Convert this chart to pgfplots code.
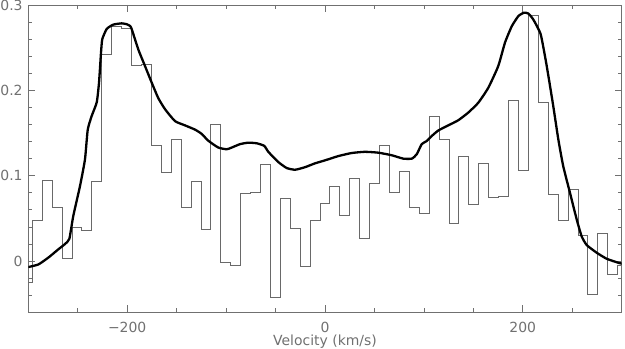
\documentclass[border=0pt]{standalone}
\usepackage{fontspec}
\setmainfont{DejaVu Sans}
\usepackage{pgfplots}
\pgfplotsset{compat=1.18}
\definecolor{axgray}{RGB}{112,112,112}
\definecolor{histgray}{RGB}{105,105,105}

\begin{document}
\begin{tikzpicture}
\begin{axis}[
    scale only axis,
    width=593.4bp, height=307.3bp,
    xmin=-300, xmax=300,
    ymin=-0.06, ymax=0.3,
    axis line style={axgray, line width=0.8bp},
    tick align=inside,
    tick style={axgray, line width=0.8bp},
    major tick length=7bp,
    minor tick length=4bp,
    xtick={-200,0,200},
    xticklabels={−200,0,200},
    minor xtick={-250,-150,-100,-50,50,100,150,250},
    ytick={0,0.1,0.2,0.3},
    yticklabels={0,0.1,0.2,0.3},
    minor ytick={-0.04,-0.02,0.02,0.04,0.06,0.08,0.12,0.14,0.16,0.18,0.22,0.24,0.26,0.28},
    tick label style={font=\fontsize{14}{14}\selectfont, text=axgray, inner sep=0pt},
    xticklabel style={anchor=center, yshift=-15bp},
    yticklabel style={anchor=east, xshift=-5.5bp},
    xlabel={Velocity (km/s)},
    xlabel style={font=\fontsize{14}{14}\selectfont, text=axgray, inner sep=0pt,
        at={(axis description cs:0.5,0)}, anchor=center, yshift=-29.5bp},
]
% spectrum (histogram)
\addplot[const plot, histgray, line width=0.75bp] coordinates {
(-300,-0.025) (-296.0,0.048) (-286.0,0.095) (-275.9,0.0625) (-265.9,0.003)
(-255.9,0.040) (-245.9,0.036) (-235.8,0.093) (-225.8,0.242) (-215.8,0.275)
(-205.7,0.273) (-195.7,0.229) (-185.7,0.231) (-175.6,0.136) (-165.6,0.1035)
(-155.6,0.143) (-145.6,0.0625) (-135.5,0.093) (-125.5,0.0367) (-115.5,0.160)
(-105.4,-0.002) (-95.4,-0.005) (-85.4,0.079) (-75.3,0.081) (-65.3,0.113)
(-55.3,-0.042) (-45.3,0.073) (-35.2,0.038) (-25.2,-0.0066) (-15.2,0.048)
(-5.1,0.068) (4.9,0.087) (14.9,0.0535) (25.0,0.097) (35.0,0.027)
(45.0,0.091) (55.1,0.135) (65.1,0.080) (75.1,0.105) (85.1,0.063)
(95.2,0.056) (105.2,0.169) (115.2,0.142) (125.3,0.044) (135.3,0.123)
(145.3,0.067) (155.4,0.115) (165.4,0.0746) (175.4,0.076) (185.4,0.188)
(195.5,0.106) (205.5,0.288) (215.5,0.1855) (225.6,0.0777) (235.6,0.0477)
(245.6,0.0836) (255.7,0.030) (265.7,-0.0395) (275.7,0.032) (285.7,-0.016)
(295.8,-0.005) (300,-0.005)
};
% model profile
\addplot[black, line width=2.3bp, line join=round, smooth, tension=0.3] coordinates {
(-300,-0.007) (-289.9,-0.004) (-279.8,0.004) (-269.7,0.0137) (-262.9,0.020)
(-258.5,0.026) (-254.5,0.053) (-247.7,0.088) (-242.7,0.119) (-239.9,0.154)
(-235.9,0.170) (-230.8,0.186) (-228.5,0.209) (-226.5,0.244) (-225.2,0.260)
(-220.7,0.272) (-214.1,0.277) (-205.6,0.2785) (-200.5,0.2775) (-197.2,0.2755)
(-195.5,0.272) (-188.8,0.248) (-182.0,0.2285) (-175.2,0.209) (-168.6,0.191)
(-161.8,0.178) (-151.7,0.164) (-141.6,0.159) (-131.4,0.154) (-124.7,0.149)
(-118.0,0.141) (-107.9,0.133) (-99.4,0.131) (-94.3,0.133) (-85.9,0.137)
(-77.6,0.1387) (-69.1,0.138) (-61.4,0.135) (-57.3,0.128) (-47.2,0.116)
(-38.7,0.109) (-30.3,0.107) (-20.2,0.110) (-10.1,0.1145) (0,0.118)
(13.4,0.123) (27.0,0.1266) (40.4,0.128) (53.9,0.127) (67.4,0.124)
(79.2,0.120) (87.7,0.120) (92.7,0.125) (97.8,0.137) (102.8,0.1406)
(107.9,0.1465) (114.6,0.153) (124.7,0.159) (134.8,0.165) (144.9,0.174)
(155.0,0.1855) (165.1,0.203) (175.2,0.2285) (182.0,0.256) (188.8,0.275)
(195.5,0.287) (201.2,0.291) (205.6,0.290) (210.6,0.283) (218.1,0.2656)
(224.2,0.2285) (230.8,0.1816) (235.9,0.1426) (240.9,0.111) (247.7,0.080)
(254.5,0.0488) (259.5,0.029) (264.6,0.0188) (274.7,0.0098) (284.8,0.0027)
(296.6,-0.002) (300,-0.003)
};
\end{axis}
\pgfresetboundingbox
\path ([shift={(-28.3bp,-36.7bp)}]current axis.south west)
  rectangle ([shift={(3.3bp,5bp)}]current axis.north east);
\end{tikzpicture}
\end{document}
